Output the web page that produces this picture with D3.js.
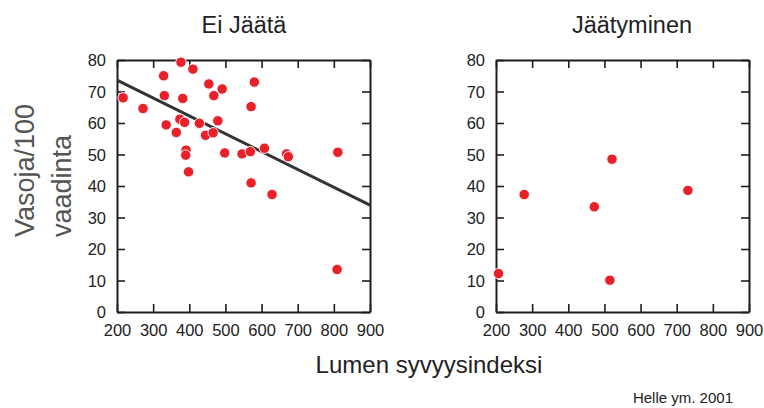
<!DOCTYPE html>
<html>
<head>
<meta charset="utf-8">
<script src="https://cdn.jsdelivr.net/npm/d3@7"></script>
<style>
  body { margin: 0; background: #fff; }
  svg { display: block; font-family: "Liberation Sans", Arial, Helvetica, sans-serif; }
</style>
</head>
<body>
<svg id="chart" width="764" height="408"></svg>
<script>
// ---- data ----
const panelTitles = ["Ei Jäätä", "Jäätyminen"];
const xTicks = [200, 300, 400, 500, 600, 700, 800, 900];
const yTicks = [0, 10, 20, 30, 40, 50, 60, 70, 80];

const noIceX = [217, 272, 329, 331, 336, 377, 382, 374, 387, 364, 391, 390, 398, 410, 428, 445, 454, 468, 466, 479, 491, 498, 546, 569, 571, 571, 580, 608, 629, 669, 674, 811, 809];
const noIceY = [68.0, 64.6, 75.0, 68.7, 59.4, 79.3, 67.8, 61.2, 60.2, 57.0, 51.4, 49.8, 44.5, 77.1, 59.9, 56.1, 72.4, 68.7, 56.9, 60.7, 70.8, 50.5, 50.2, 50.9, 65.2, 41.0, 73.0, 52.0, 37.3, 50.2, 49.3, 50.7, 13.5];

const iceX = [207, 278, 472, 521, 515, 731];
const iceY = [12.2, 37.3, 33.4, 48.5, 10.1, 38.6];

// regression line of the first panel (endpoints)
const trendX = [200, 900];
const trendY = [73.6, 33.9];

const yLabelLines = ["Vasoja/100", "vaadinta"];
const xLabel = "Lumen syvyysindeksi";
const sourceNote = "Helle ym. 2001";

// ---- drawing ----
const svg = d3.select("#chart");
const pTop = 60, pBottom = 312;
const panels = [
  { left: 117, right: 370, title: panelTitles[0], titleX: 244, xs: noIceX, ys: noIceY, trend: true },
  { left: 496, right: 749, title: panelTitles[1], titleX: 632, xs: iceX, ys: iceY, trend: false }
];

const red = "#e8202a";
const axisColor = "#1e1e1e";

panels.forEach(p => {
  const x = d3.scaleLinear().domain([200, 900]).range([p.left, p.right]);
  const y = d3.scaleLinear().domain([0, 80]).range([pBottom, pTop]);
  const g = svg.append("g");

  const tickLen = 8;
  const axB = d3.axisBottom(x).tickValues(xTicks).tickSizeInner(-tickLen).tickSizeOuter(0).tickPadding(tickLen + 4).tickFormat(d3.format("d"));
  const axT = d3.axisTop(x).tickValues(xTicks).tickSizeInner(-tickLen).tickSizeOuter(0).tickFormat("");
  const axL = d3.axisLeft(y).tickValues(yTicks).tickSizeInner(-tickLen).tickSizeOuter(0).tickPadding(tickLen + 3).tickFormat(d3.format("d"));
  const axR = d3.axisRight(y).tickValues(yTicks).tickSizeInner(-tickLen).tickSizeOuter(0).tickFormat("");

  const gb = g.append("g").attr("transform", `translate(0,${pBottom})`).call(axB);
  const gt = g.append("g").attr("transform", `translate(0,${pTop})`).call(axT);
  const gl = g.append("g").attr("transform", `translate(${p.left},0)`).call(axL);
  const gr = g.append("g").attr("transform", `translate(${p.right},0)`).call(axR);

  [gb, gt, gl, gr].forEach(a => {
    a.select(".domain").attr("stroke", axisColor).attr("stroke-width", 2);
    a.selectAll(".tick line").attr("stroke", axisColor).attr("stroke-width", 1.6);
    a.selectAll(".tick text").attr("fill", "#222").attr("font-size", 16.5)
      .attr("font-family", "'Liberation Sans', Arial, sans-serif");
  });
  gb.selectAll(".tick text").attr("dy", "0.71em");
  gl.selectAll(".tick text").attr("dy", "0.36em");

  if (p.trend) {
    const line = d3.line().x(d => x(d[0])).y(d => y(d[1]));
    g.append("path")
      .datum(trendX.map((v, i) => [v, trendY[i]]))
      .attr("d", line)
      .attr("fill", "none")
      .attr("stroke", "#333")
      .attr("stroke-width", 3);
  }

  g.append("g").selectAll("circle")
    .data(p.xs.map((v, i) => [v, p.ys[i]]))
    .join("circle")
    .attr("cx", d => x(d[0]))
    .attr("cy", d => y(d[1]))
    .attr("r", 5.2)
    .attr("fill", red)
    .attr("stroke", "#fff")
    .attr("stroke-width", 0.9);

  svg.append("text")
    .attr("x", p.titleX).attr("y", 33)
    .attr("text-anchor", "middle")
    .attr("font-size", 23.5)
    .attr("fill", "#222")
    .text(p.title);
});

const yl = svg.append("text")
  .attr("transform", "translate(0,237) rotate(-90)")
  .attr("font-size", 27)
  .attr("fill", "#555");
yLabelLines.forEach((t, i) => {
  yl.append("tspan").attr("x", 0).attr("y", i === 0 ? 34 : 71).text(t);
});

svg.append("text")
  .attr("x", 429).attr("y", 373)
  .attr("text-anchor", "middle")
  .attr("font-size", 24)
  .attr("fill", "#222")
  .text(xLabel);

svg.append("text")
  .attr("x", 733).attr("y", 403)
  .attr("text-anchor", "end")
  .attr("font-size", 15)
  .attr("fill", "#222")
  .text(sourceNote);
</script>
</body>
</html>
